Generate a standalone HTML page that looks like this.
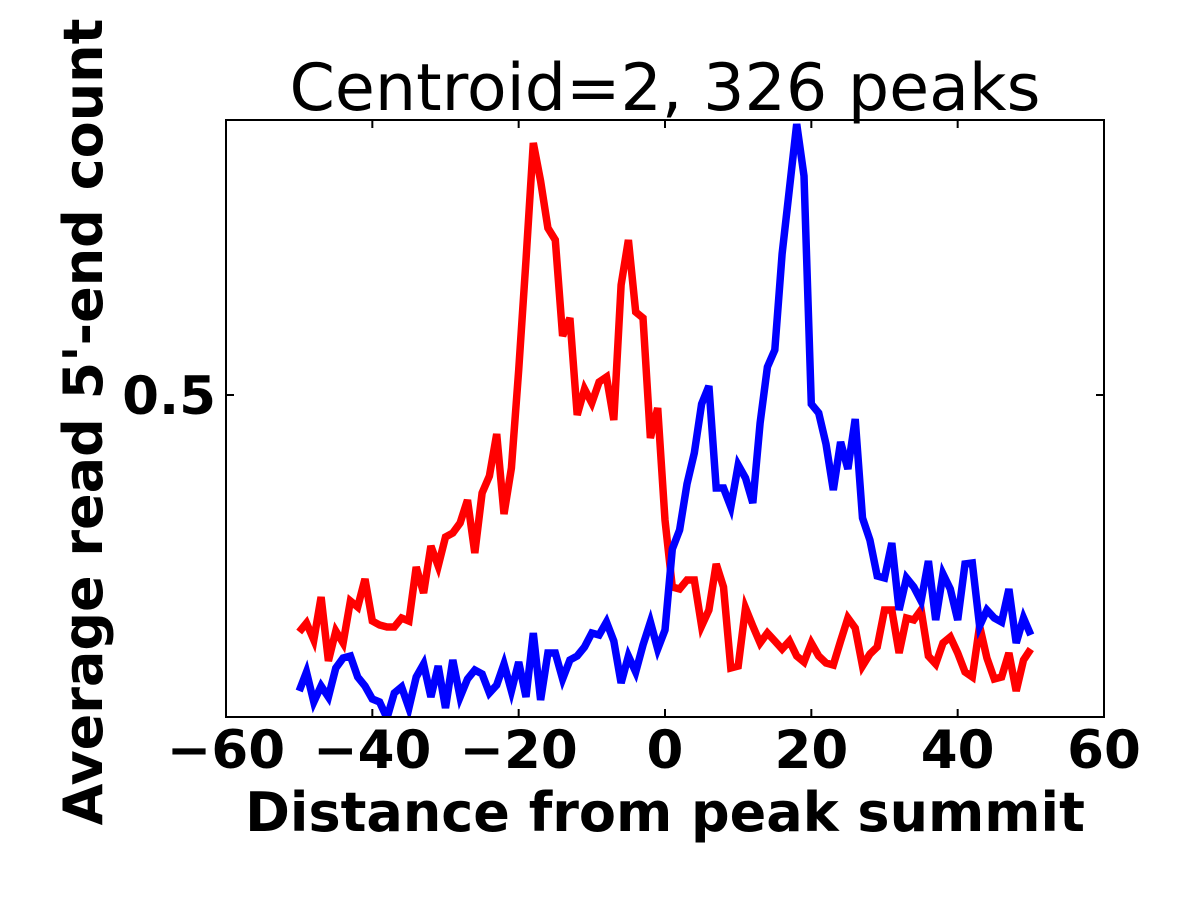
<!DOCTYPE html>
<html><head><meta charset="utf-8"><style>
html,body{margin:0;padding:0;background:#fff;}
svg{display:block;}
text{font-family:"DejaVu Sans","Liberation Sans",sans-serif;}
</style></head><body>
<svg id="chart" width="1200" height="900" xmlns="http://www.w3.org/2000/svg">
<defs><clipPath id="clip"><rect x="226" y="120" width="878" height="597"/></clipPath></defs>
<g id="plot"></g>
</svg>
<script>
const xStart = -50;
const redValues = [.263,.272,.255,.298,.234,.264,.252,.294,.288,.316,
.274,.270,.268,.268,.277,.274,.328,.302,.349,.329,
.358,.362,.372,.395,.342,.402,.419,.461,.381,.427,
.525,.635,.752,.714,.667,.655,.559,.577,.480,.506,
.492,.513,.518,.475,.610,.655,.583,.577,.457,.487,
.375,
.308,.306,.315,.315,.269,.285,.331,.308,.227,.229,
.287,.269,.252,.262,.254,.246,.254,.239,.233,.252,
.239,.232,.230,.254,.277,.267,.229,.241,.248,.285,
.285,.242,.277,.275,.285,.239,.231,.252,.258,.242,
.223,.218,.269,.237,.216,.218,.242,.204,.235,.246];
const blueValues = [.204,.223,.193,.209,.198,.227,.237,.239,.218,.209,
.196,.193,.177,.202,.208,.187,.218,.231,.198,.229,
.187,.235,.198,.216,.225,.221,.202,.210,.231,.204,
.233,.198,.262,.195,.242,.242,.216,.235,.239,.248,
.262,.260,.273,.254,.212,.239,.223,.250,.273,.246,
.265,
.346,.365,.411,.442,.491,.509,.407,.407,.388,.430,
.417,.392,.472,.528,.545,.641,.706,.771,.719,.491,
.482,.451,.405,.453,.426,.476,.377,.355,.319,.317,
.352,.285,.317,.308,.294,.334,.275,.321,.306,.275,
.331,.332,.269,.285,.277,.273,.306,.252,.277,.260];
const xTicks = [-60,-40,-20,0,20,40,60];
const xTickLabels = ["\u221260","\u221240","\u221220","0","20","40","60"];
const yTicks = [0.5];
const yTickLabels = ["0.5"];
const xDomain = [-60,60];
const yDomain = [0.178,0.775];

const L=226,R=1104,T=120,B=717;
const sx = v => L + (v - xDomain[0])/(xDomain[1]-xDomain[0])*(R-L);
const sy = v => B - (v - yDomain[0])/(yDomain[1]-yDomain[0])*(B-T);
const NS="http://www.w3.org/2000/svg";
const g=document.getElementById('plot');
function mk(tag,attrs){const e=document.createElementNS(NS,tag);for(const k in attrs)e.setAttribute(k,attrs[k]);g.appendChild(e);return e;}

function series(vals,color,name){
  const d=vals.map((v,i)=>(i?'L':'M')+sx(xStart+i).toFixed(1)+','+sy(v).toFixed(1)).join(' ');
  const p=mk('path',{d:d,fill:'none',stroke:color,'stroke-width':7.5,'stroke-linejoin':'miter','clip-path':'url(#clip)'});
  
  
}
series(redValues,'#ff0000','red-series-line');
series(blueValues,'#0000ff','blue-series-line');

const frame=mk('rect',{x:L,y:T,width:R-L,height:B-T,fill:'none',stroke:'#000','stroke-width':2});



xTicks.forEach((t,i)=>{
  const x=sx(t);
  const tb=mk('line',{x1:x,y1:B,x2:x,y2:B-8,stroke:'#000','stroke-width':2});
  
  
  const tt=mk('line',{x1:x,y1:T,x2:x,y2:T+8,stroke:'#000','stroke-width':2});
  
  
  const lb=mk('text',{x:x,y:B+51,'text-anchor':'middle','font-size':53,'font-weight':'bold'});
  lb.textContent=xTickLabels[i];
  
  
});
yTicks.forEach((t,i)=>{
  const y=sy(t);
  const tl=mk('line',{x1:L,y1:y,x2:L+8,y2:y,stroke:'#000','stroke-width':2});
  
  
  const tr=mk('line',{x1:R,y1:y,x2:R-8,y2:y,stroke:'#000','stroke-width':2});
  
  
  const lb=mk('text',{x:L-10,y:y+19,'text-anchor':'end','font-size':53,'font-weight':'bold'});
  lb.textContent=yTickLabels[i];
  
  
});

const title=mk('text',{x:665,y:110,'text-anchor':'middle','font-size':65});
title.textContent='Centroid=2, 326 peaks';



const xl=mk('text',{x:665,y:831,'text-anchor':'middle','font-size':54,'font-weight':'bold'});
xl.textContent='Distance from peak summit';



const yl=mk('text',{x:0,y:0,'text-anchor':'middle','font-size':54,'font-weight':'bold',transform:'translate(102,422) rotate(-90)'});
yl.textContent="Average read 5'-end count";


</script>
</body></html>
